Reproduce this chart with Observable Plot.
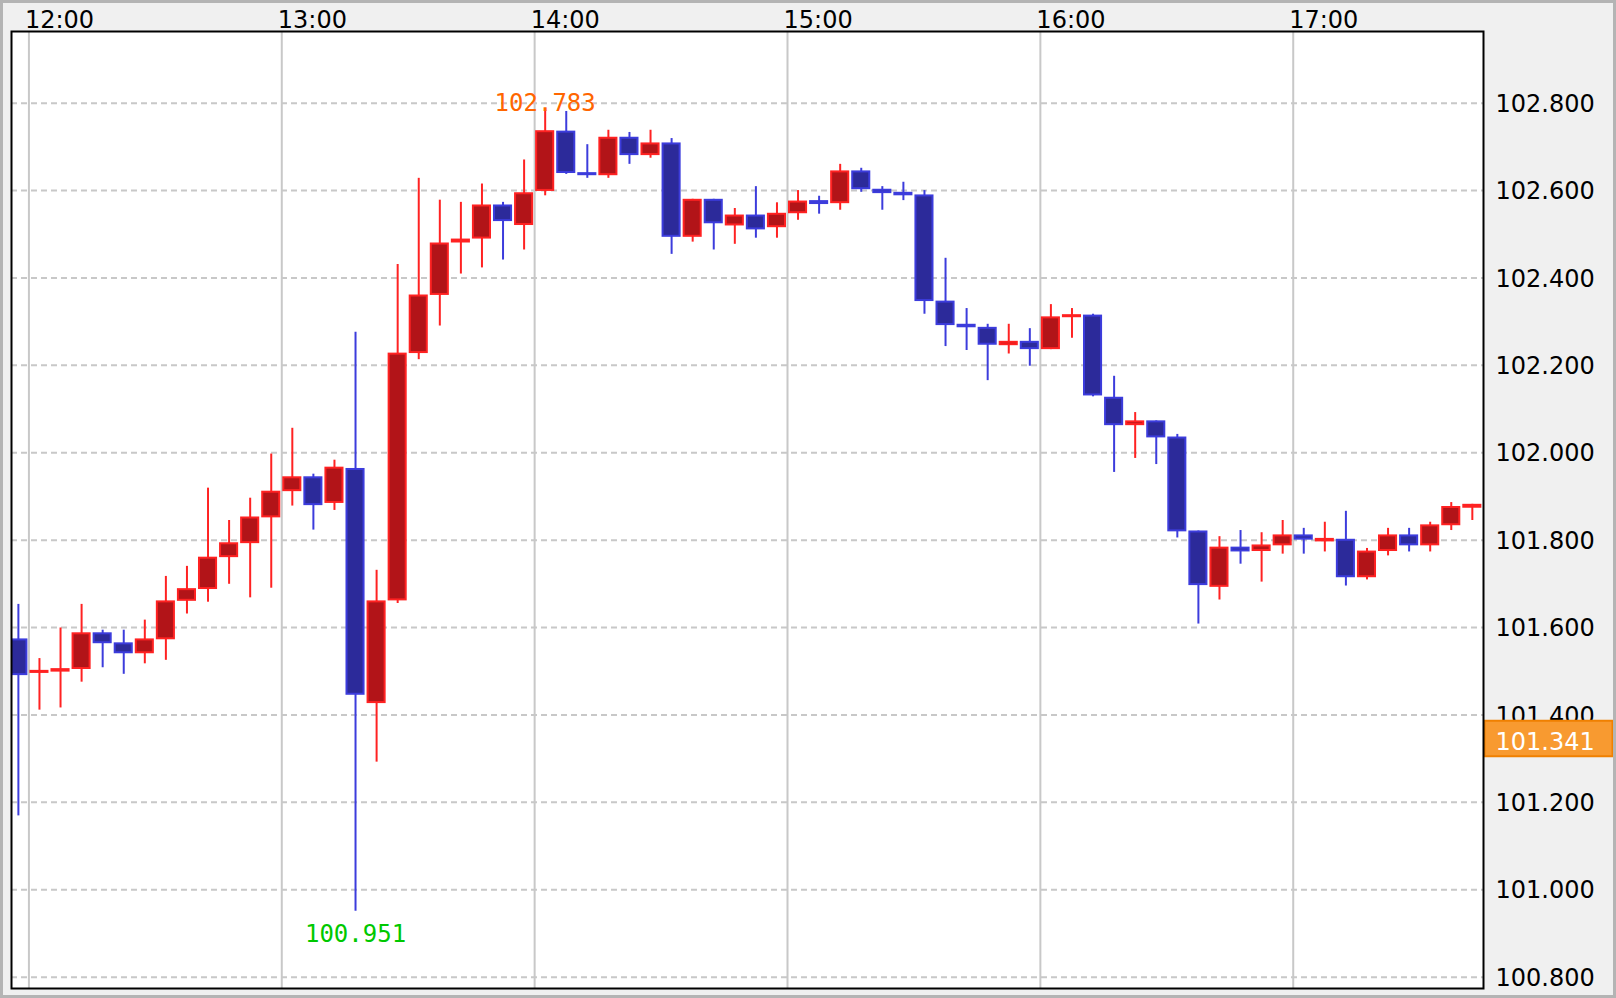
<!DOCTYPE html>
<html><head><meta charset="utf-8">
<script src="https://cdn.jsdelivr.net/npm/d3@7"></script>
<script src="https://cdn.jsdelivr.net/npm/@observablehq/plot@0.6"></script>
<style>
html,body{margin:0;padding:0;background:#f0f0f0;}
#wrap{position:relative;width:1616px;height:998px;overflow:hidden;}
#wrap svg{display:block;}
#border{position:absolute;left:0;top:0;width:1616px;height:998px;box-sizing:border-box;border:3px solid #b4b4b4;pointer-events:none;}
</style></head><body><div id="wrap"><div id="border"></div></div>
<script>
// 5-minute candles, start times
const times = [
 "11:55","12:00","12:05","12:10","12:15","12:20","12:25","12:30","12:35","12:40","12:45","12:50","12:55",
 "13:00","13:05","13:10","13:15","13:20","13:25","13:30","13:35","13:40","13:45","13:50","13:55",
 "14:00","14:05","14:10","14:15","14:20","14:25","14:30","14:35","14:40","14:45","14:50","14:55",
 "15:00","15:05","15:10","15:15","15:20","15:25","15:30","15:35","15:40","15:45","15:50","15:55",
 "16:00","16:05","16:10","16:15","16:20","16:25","16:30","16:35","16:40","16:45","16:50","16:55",
 "17:00","17:05","17:10","17:15","17:20","17:25","17:30","17:35","17:40"];
const open = [
 101.574,101.495,101.498,101.504,101.588,101.565,101.540,101.572,101.660,101.687,101.760,101.792,101.851,
 101.911,101.945,101.884,101.964,101.426,101.661,102.227,102.360,102.480,102.489,102.567,102.520,
 102.598,102.736,102.641,102.634,102.722,102.680,102.709,102.493,102.580,102.519,102.544,102.515,
 102.547,102.577,102.570,102.645,102.603,102.596,102.590,102.347,102.294,102.287,102.245,102.255,
 102.236,102.309,102.315,102.127,102.062,102.073,102.036,101.821,101.692,101.784,101.774,101.787,
 101.812,101.796,101.802,101.714,101.774,101.812,101.787,101.833,101.873];
const high = [
 101.653,101.529,101.599,101.653,101.594,101.594,101.617,101.717,101.740,101.919,101.845,101.896,101.997,
 102.056,101.951,101.983,102.276,101.731,102.431,102.628,102.578,102.573,102.615,102.573,102.670,
 102.783,102.781,102.705,102.738,102.733,102.738,102.719,102.580,102.580,102.559,102.609,102.572,
 102.600,102.587,102.660,102.651,102.609,102.619,102.600,102.445,102.330,102.294,102.294,102.284,
 102.339,102.330,102.317,102.175,102.092,102.073,102.042,101.821,101.808,101.822,101.817,101.845,
 101.827,101.841,101.866,101.781,101.827,101.827,101.841,101.886,101.882];
const low = [
 101.169,101.411,101.416,101.475,101.508,101.493,101.517,101.525,101.631,101.658,101.699,101.668,101.690,
 101.878,101.823,101.868,100.951,101.292,101.655,102.213,102.290,102.409,102.423,102.441,102.464,
 102.588,102.637,102.628,102.628,102.660,102.674,102.454,102.482,102.464,102.477,102.491,102.491,
 102.532,102.546,102.555,102.596,102.555,102.577,102.317,102.243,102.234,102.165,102.226,102.198,
 102.236,102.262,102.128,101.955,101.987,101.973,101.805,101.608,101.663,101.745,101.704,101.768,
 101.768,101.773,101.695,101.709,101.764,101.773,101.773,101.822,101.845];
const close = [
 101.490,101.502,101.506,101.588,101.563,101.540,101.574,101.661,101.689,101.761,101.794,101.853,101.912,
 101.945,101.879,101.967,101.445,101.661,102.228,102.361,102.480,102.489,102.567,102.529,102.595,
 102.737,102.639,102.634,102.722,102.680,102.709,102.493,102.580,102.524,102.544,102.510,102.548,
 102.576,102.568,102.645,102.602,102.593,102.588,102.346,102.291,102.286,102.246,102.255,102.236,
 102.311,102.316,102.130,102.062,102.073,102.034,101.819,101.696,101.784,101.773,101.789,101.812,
 101.800,101.804,101.714,101.775,101.812,101.787,101.835,101.877,101.882];

const hourTicks = ["12:00","13:00","14:00","15:00","16:00","17:00"];
const yTicks = [100.8,101.0,101.2,101.4,101.6,101.8,102.0,102.2,102.4,102.6,102.8];
const lastPrice = 101.341;
const xDomain = ["11:55:52","17:45:09"];
const yDomain = [100.774,102.964];

const UP_LINE = "#ff2222", UP_FILL = "#b21418";
const DN_LINE = "#3c3cdc", DN_FILL = "#2c2a9a";

const parseT = s => new Date(`2024-01-01T${s.length === 5 ? s + ":00" : s}Z`);
const BAR = 5 * 60000;
const candles = times.map((t, i) => {
  const t0 = parseT(t);
  return {t0, t1: new Date(+t0 + BAR), tm: new Date(+t0 + BAR / 2),
    open: open[i], high: high[i], low: low[i], close: close[i], up: close[i] >= open[i]};
});
const hi = candles[d3.maxIndex(high)];
const lo = candles[d3.minIndex(low)];

const priceBox = {draw(ctx) {
  ctx.moveTo(1, -20); ctx.lineTo(129, -20); ctx.lineTo(129, 15.5); ctx.lineTo(1, 15.5); ctx.closePath();
}};

const svg = Plot.plot({
  width: 1616, height: 998,
  marginLeft: 11, marginRight: 133, marginTop: 31, marginBottom: 10,
  style: {background: "transparent", fontFamily: "DejaVu Sans", overflow: "visible"},
  x: {type: "utc", domain: xDomain.map(parseT), axis: null},
  y: {domain: yDomain, axis: null},
  marks: [
    Plot.frame({fill: "white", stroke: "none"}),
    Plot.ruleY(yTicks, {stroke: "#c8c8c8", strokeWidth: 2, strokeDasharray: "6,4"}),
    Plot.ruleX(hourTicks.map(parseT), {stroke: "#c8c8c8", strokeWidth: 2}),
    Plot.ruleX(candles, {x: "tm", y1: "low", y2: "high", stroke: d => d.up ? UP_LINE : DN_LINE, strokeWidth: 2, clip: true}),
    Plot.rect(candles, {x1: "t0", x2: "t1", y1: "open", y2: "close",
      fill: d => d.up ? UP_FILL : DN_FILL, stroke: d => d.up ? UP_LINE : DN_LINE, strokeWidth: 2,
      insetLeft: 2, insetRight: 2, insetTop: 1, insetBottom: 1, clip: true}),
    Plot.text(hourTicks, {x: d => parseT(d), frameAnchor: "top", lineAnchor: "bottom", textAnchor: "start",
      dx: -4, dy: -4, text: d => d, fontSize: 24, fill: "black"}),
    Plot.text(yTicks, {y: d => d, frameAnchor: "right", lineAnchor: "middle", textAnchor: "start",
      dx: 12, dy: 1, text: d => d.toFixed(3), fontSize: 24, fill: "black"}),
    Plot.dot([lastPrice], {y: d => d, frameAnchor: "right", symbol: priceBox, fill: "#f89a30", stroke: "#f08000", strokeWidth: 2}),
    Plot.text([lastPrice], {y: d => d, frameAnchor: "right", lineAnchor: "middle", textAnchor: "start",
      dx: 12, dy: 2, text: d => d.toFixed(3), fontSize: 24, fill: "white"}),
    Plot.text([hi], {x: "tm", y: "high", lineAnchor: "bottom", text: d => d.high.toFixed(3),
      fontFamily: "DejaVu Sans Mono", fontSize: 24, fill: "#ff6600", ariaLabel: "extreme"}),
    Plot.text([lo], {x: "tm", y: "low", lineAnchor: "bottom", dy: 31, text: d => d.low.toFixed(3),
      fontFamily: "DejaVu Sans Mono", fontSize: 24, fill: "#00c800", ariaLabel: "extreme"}),
    Plot.frame({stroke: "black", strokeWidth: 2})
  ]
});
d3.select(svg).selectAll('g[aria-label="extreme"] text').attr("transform", function() {
  return (this.getAttribute("transform") || "") + " scale(1,1.14)";
});
const wrap = document.getElementById("wrap");
wrap.insertBefore(svg, document.getElementById("border"));
</script>
</body></html>
